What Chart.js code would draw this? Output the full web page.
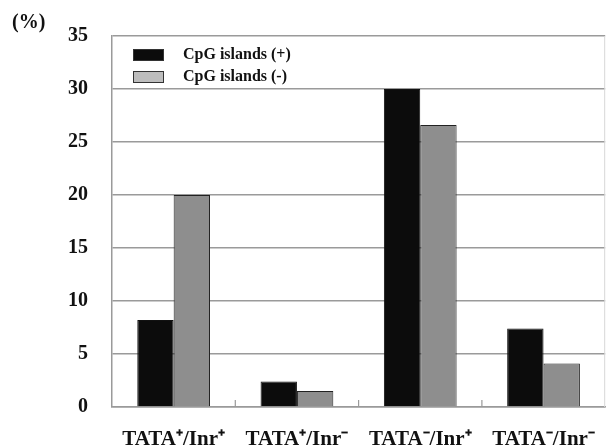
<!DOCTYPE html>
<html>
<head>
<meta charset="utf-8">
<script src="https://cdn.jsdelivr.net/npm/chart.js@4.4.1/dist/chart.umd.min.js"></script>
<style>
  html, body { margin: 0; padding: 0; background: #fff; }
  #wrap { position: relative; width: 607px; height: 446px; }
</style>
</head>
<body>
<div id="wrap"><canvas id="c" width="607" height="446"></canvas></div>
<script>
const categories = ['TATA\u207A/Inr\u207A', 'TATA\u207A/Inr\u207B', 'TATA\u207B/Inr\u207A', 'TATA\u207B/Inr\u207B'];
const seriesNames = ['CpG islands (+)', 'CpG islands (-)'];
const cpgPlus = [8.2, 2.4, 30.0, 7.4];
const cpgMinus = [20.0, 1.5, 26.6, 4.1];
const yTicks = [0, 5, 10, 15, 20, 25, 30, 35];
const yUnit = '(%)';

const FONT = '"Liberation Serif", "Times New Roman", serif';
const legendBoxColors = ['#0c0c0c', '#bdbdbd'];

const extras = {
  id: 'extras',
  afterDraw(chart) {
    const ctx = chart.ctx;
    const a = chart.chartArea;
    const xs = chart.scales.x;
    ctx.save();
    ctx.strokeStyle = '#9a9a9a';
    ctx.lineWidth = 1.2;
    for (let i = 1; i < categories.length; i++) {
      const x = (xs.getPixelForValue(i - 1) + xs.getPixelForValue(i)) / 2;
      ctx.beginPath();
      ctx.moveTo(x, a.bottom);
      ctx.lineTo(x, a.bottom - 7);
      ctx.stroke();
    }
    ctx.strokeStyle = '#d8d8d8';
    ctx.lineWidth = 1;
    ctx.beginPath();
    ctx.moveTo(a.right - 0.5, a.top);
    ctx.lineTo(a.right - 0.5, a.bottom);
    ctx.stroke();
    ctx.fillStyle = '#111';
    ctx.font = 'bold 20px ' + FONT;
    ctx.textAlign = 'left';
    ctx.textBaseline = 'middle';
    ctx.fillText(yUnit, 12, 23);
    ctx.font = 'bold 16px ' + FONT;
    chart.data.datasets.forEach((ds, i) => {
      const bx = a.left + 21, by = a.top + 13 + i * 22;
      ctx.fillStyle = legendBoxColors[i];
      ctx.fillRect(bx, by, 31, 12);
      ctx.strokeStyle = '#333';
      ctx.lineWidth = 1;
      ctx.strokeRect(bx + 0.5, by + 0.5, 30, 11);
      ctx.fillStyle = '#111';
      ctx.fillText(ds.label, bx + 50, by + 6);
    });
    ctx.restore();
  }
};

new Chart(document.getElementById('c'), {
  type: 'bar',
  data: {
    labels: categories,
    datasets: [
      { label: seriesNames[0], data: cpgPlus, backgroundColor: '#0c0c0c', borderColor: '#111', borderWidth: 1 },
      { label: seriesNames[1], data: cpgMinus, backgroundColor: '#8e8e8e', borderColor: '#222', borderWidth: 1 }
    ]
  },
  options: {
    responsive: false,
    animation: false,
    devicePixelRatio: 1,
    layout: { padding: { top: 32, right: 1, left: 0, bottom: 0 } },
    plugins: { legend: { display: false }, tooltip: { enabled: false } },
    datasets: { bar: { barPercentage: 1.0, categoryPercentage: 0.59 } },
    scales: {
      x: {
        offset: true,
        grid: { display: false },
        border: { display: true, color: '#9a9a9a', width: 1.5 },
        ticks: { color: '#111', font: { family: FONT, size: 21, weight: 'bold' }, padding: 12, maxRotation: 0, autoSkip: false },
        afterFit(s) { s.height = 39; }
      },
      y: {
        min: 0, max: 35,
        afterBuildTicks(s) { s.ticks = yTicks.map(v => ({ value: v })); },
        grid: { color: '#9a9a9a', lineWidth: 1.5, drawTicks: false },
        border: { display: true, color: '#9a9a9a', width: 1.5 },
        ticks: { color: '#111', font: { family: FONT, size: 20, weight: 'bold' }, padding: 24 },
        afterFit(s) { s.width = 112; }
      }
    }
  },
  plugins: [extras]
});
</script>
</body>
</html>
